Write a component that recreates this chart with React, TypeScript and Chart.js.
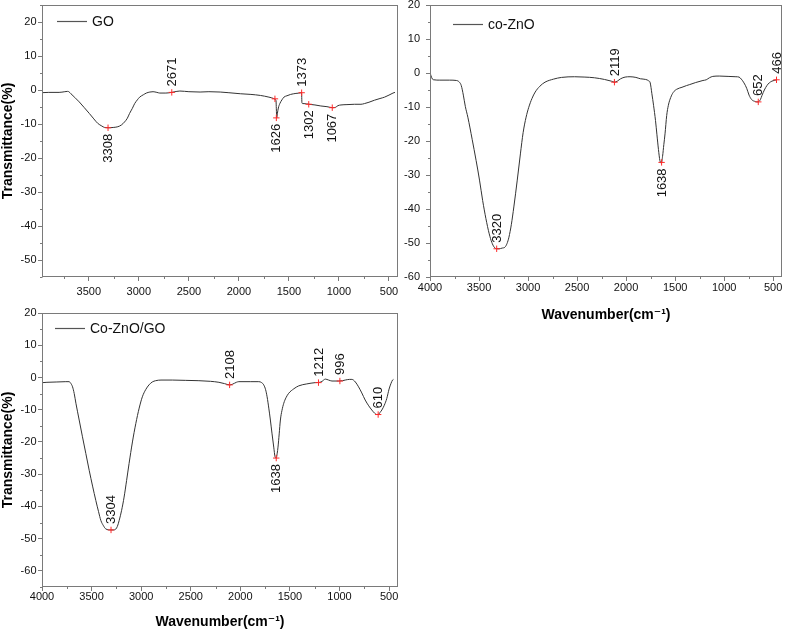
import React, { useEffect, useRef } from 'react';
import { Chart, registerables } from 'chart.js';

Chart.register(...registerables);

const FONT = '"Liberation Sans", Arial, Helvetica, "DejaVu Sans", sans-serif';
const AXIS_COLOR = '#7a7a7a';
const LINE_COLOR = '#333333';
const MARKER_COLOR = '#ff2a2a';
const TEXT_COLOR = '#111111';

// ---------- GO ----------
const GO_WAVENUMBER = [
  3985, 3900, 3797, 3740, 3713, 3700, 3679, 3640, 3596, 3545, 3495, 3450, 3411, 3370, 3344, 3294, 3250,
  3210, 3175, 3143, 3115, 3093, 3065, 3042, 3015, 2992, 2955, 2925, 2890, 2858, 2820, 2791, 2730, 2671,
  2620, 2590, 2500, 2388, 2300, 2187, 2100, 1986, 1880, 1785, 1700, 1653, 1635, 1629, 1626, 1622, 1616,
  1606, 1591, 1570, 1550, 1520, 1483, 1430, 1380, 1374, 1370, 1362, 1349, 1299, 1240, 1181, 1120, 1063,
  1035, 1010, 980, 920, 846, 780, 746, 700, 645, 590, 544, 500, 460, 440,
];
const GO_TRANSMITTANCE = [
  -0.8, -0.7, -0.7, -0.5, -0.4, -0.5, -1.1, -2.2, -3.5, -5.2, -6.9, -8.5, -9.8, -10.6, -11.0, -11.1, -11.0,
  -10.8, -10.3, -9.4, -8.3, -6.9, -5.4, -4.0, -2.9, -2.1, -1.4, -0.9, -0.6, -0.5, -0.7, -0.9, -0.9, -0.7,
  -0.4, -0.3, -0.5, -0.6, -0.5, -0.6, -0.8, -1.1, -1.3, -1.6, -2.1, -2.5, -2.8, -3.2, -5.5, -8.2, -7.0,
  -5.3, -4.0, -2.9, -2.1, -1.7, -1.3, -1.0, -0.8, -0.7, -3.8, -4.0, -4.0, -4.2, -4.4, -4.7, -4.9, -5.2,
  -5.1, -4.6, -4.4, -4.3, -4.2, -4.2, -4.0, -3.6, -3.0, -2.5, -2.1, -1.5, -0.9, -0.7,
];
const GO_PEAK_WAVENUMBER = [3308, 2671, 1640, 1626, 1373, 1302, 1067];
const GO_PEAK_TRANSMITTANCE = [-11.1, -0.7, -2.6, -8.2, -0.8, -4.2, -5.2];
const GO_PEAK_LABELS = ['3308', '2671', '', '1626', '1373', '1302', '1067'];
const GO_PEAK_SIDE = ['below', 'above', 'above', 'below', 'above', 'below', 'below'];
const GO_X_TICKS = [3500, 3000, 2500, 2000, 1500, 1000, 500];
const GO_Y_TICKS = [-50, -40, -30, -20, -10, 0, 10, 20];

// ---------- co-ZnO ----------
const ZNO_WAVENUMBER = [
  4000, 3990, 3975, 3960, 3900, 3800, 3731, 3700, 3681, 3660, 3640, 3614, 3570, 3530, 3495, 3463, 3430,
  3396, 3370, 3346, 3320, 3296, 3265, 3235, 3215, 3195, 3170, 3145, 3110, 3078, 3050, 3020, 2994, 2960,
  2927, 2880, 2827, 2740, 2659, 2525, 2420, 2324, 2220, 2150, 2119, 2090, 2056, 2010, 1960, 1900, 1854,
  1800, 1770, 1754, 1737, 1720, 1700, 1686, 1670, 1655, 1640, 1628, 1615, 1603, 1586, 1569, 1545, 1519,
  1485, 1430, 1384, 1351, 1290, 1216, 1183, 1150, 1116, 1050, 960, 880, 848, 825, 798, 770, 746, 720,
  681, 655, 630, 614, 590, 564, 540, 513, 490, 466,
];
const ZNO_TRANSMITTANCE = [
  0.2, -0.8, -1.8, -2.0, -2.1, -2.1, -2.2, -2.7, -3.7, -6.5, -9.8, -13.0, -19.5, -25.7, -31.5, -37.5, -42.8,
  -47.3, -49.8, -51.2, -51.7, -51.7, -51.5, -51.2, -50.2, -48.3, -44.5, -39.4, -31.5, -23.8, -17.5, -13.0,
  -10.2, -7.5, -5.6, -3.9, -2.7, -1.8, -1.3, -1.1, -1.2, -1.4, -1.9, -2.4, -2.7, -2.4, -1.7, -1.2, -1.1,
  -1.3, -1.7, -1.9, -2.3, -2.9, -6.1, -9.5, -14.0, -18.0, -22.5, -25.8, -26.5, -24.5, -21.0, -17.9, -12.5,
  -9.5, -7.2, -5.7, -4.8, -4.2, -3.7, -3.4, -2.8, -2.2, -2.0, -1.4, -1.0, -0.9, -1.0, -1.1, -1.2, -1.8,
  -2.9, -4.5, -6.5, -7.8, -8.4, -8.5, -7.8, -6.6, -5.0, -3.7, -2.9, -2.4, -2.2, -2.0,
];
const ZNO_PEAK_WAVENUMBER = [3320, 2119, 1638, 652, 466];
const ZNO_PEAK_TRANSMITTANCE = [-51.7, -2.7, -26.3, -8.5, -2.0];
const ZNO_PEAK_LABELS = ['3320', '2119', '1638', '652', '466'];
const ZNO_PEAK_SIDE = ['above', 'above', 'below', 'above', 'above'];
const ZNO_X_TICKS = [4000, 3500, 3000, 2500, 2000, 1500, 1000, 500];
const ZNO_Y_TICKS = [-60, -50, -40, -30, -20, -10, 0, 10, 20];

// ---------- Co-ZnO/GO ----------
const COMP_WAVENUMBER = [
  4000, 3994, 3950, 3850, 3760, 3727, 3710, 3692, 3675, 3658, 3625, 3592, 3558, 3524, 3490, 3457, 3430,
  3406, 3380, 3356, 3306, 3280, 3255, 3240, 3222, 3197, 3172, 3147, 3122, 3088, 3054, 3020, 2988, 2955,
  2921, 2888, 2854, 2800, 2686, 2550, 2418, 2300, 2216, 2160, 2108, 2080, 2040, 2015, 1900, 1814, 1785,
  1764, 1745, 1730, 1713, 1697, 1680, 1663, 1650, 1638, 1628, 1620, 1608, 1596, 1580, 1562, 1540, 1512,
  1460, 1411, 1330, 1244, 1200, 1175, 1160, 1143, 1110, 1076, 1009, 970, 942, 900, 875, 840, 808, 775,
  741, 705, 674, 645, 624, 605, 590, 573, 548, 523, 500, 480, 465, 456,
];
const COMP_TRANSMITTANCE = [
  -1.3, -1.6, -1.5, -1.4, -1.3, -1.3, -1.8, -2.9, -5.0, -8.0, -13.2, -18.4, -23.6, -28.8, -33.7, -38.2,
  -41.6, -44.4, -46.0, -47.0, -47.3, -47.3, -47.0, -46.2, -44.4, -41.2, -37.1, -32.0, -26.7, -20.0, -14.3,
  -9.5, -6.0, -3.8, -2.3, -1.4, -1.0, -0.8, -0.8, -0.9, -1.0, -1.2, -1.5, -1.9, -2.3, -2.1, -1.5, -1.3,
  -1.3, -1.3, -1.6, -2.3, -3.8, -6.0, -9.5, -13.2, -17.5, -21.6, -24.6, -25.0, -23.5, -21.6, -17.5, -13.2,
  -10.2, -8.0, -6.3, -4.9, -3.5, -2.6, -2.0, -1.6, -1.5, -1.2, -0.8, -0.5, -0.8, -1.1, -1.1, -1.0, -0.8,
  -0.6, -0.6, -1.4, -2.9, -4.8, -7.0, -8.8, -10.1, -11.1, -11.5, -11.4, -10.8, -10.1, -8.6, -6.5, -3.6,
  -1.8, -0.8, -0.6,
];
const COMP_PEAK_WAVENUMBER = [3304, 2108, 1638, 1212, 996, 610];
const COMP_PEAK_TRANSMITTANCE = [-47.3, -2.3, -25.0, -1.6, -1.1, -11.5];
const COMP_PEAK_LABELS = ['3304', '2108', '1638', '1212', '996', '610'];
const COMP_PEAK_SIDE = ['above', 'above', 'below', 'above', 'above', 'above'];
const COMP_X_TICKS = [4000, 3500, 3000, 2500, 2000, 1500, 1000, 500];
const COMP_Y_TICKS = [-60, -50, -40, -30, -20, -10, 0, 10, 20];

type Panel = {
  name: string;
  wn: number[];
  tr: number[];
  peakWn: number[];
  peakTr: number[];
  peakLabels: string[];
  peakSide: string[];
  xTicks: number[];
  yTicks: number[];
  xMin: number;
  xMax: number;
  yMin: number;
  yMax: number;
  left: number;
  top: number;
  width: number;
  height: number;
  pad: { left: number; right: number; top: number; bottom: number };
  yAxisWidth: number;
  xAxisHeight: number;
  yTitle: boolean;
  xTitle: boolean;
  xLabelPad: number;
  yLabelPad: number;
  legendDx: number;
  legendDy: number;
};

const PANELS: Panel[] = [
  {
    name: 'GO', wn: GO_WAVENUMBER, tr: GO_TRANSMITTANCE,
    peakWn: GO_PEAK_WAVENUMBER, peakTr: GO_PEAK_TRANSMITTANCE, peakLabels: GO_PEAK_LABELS, peakSide: GO_PEAK_SIDE,
    xTicks: GO_X_TICKS, yTicks: GO_Y_TICKS, xMin: 410, xMax: 3968, yMin: -55, yMax: 25,
    left: 0, top: 0, width: 405, height: 300,
    pad: { left: 0, right: 7, top: 4, bottom: 0 }, yAxisWidth: 42, xAxisHeight: 23,
    yTitle: true, xTitle: false, xLabelPad: 5, yLabelPad: 1.5, legendDx: 15, legendDy: 16,
  },
  {
    name: 'co-ZnO', wn: ZNO_WAVENUMBER, tr: ZNO_TRANSMITTANCE,
    peakWn: ZNO_PEAK_WAVENUMBER, peakTr: ZNO_PEAK_TRANSMITTANCE, peakLabels: ZNO_PEAK_LABELS, peakSide: ZNO_PEAK_SIDE,
    xTicks: ZNO_X_TICKS, yTicks: ZNO_Y_TICKS, xMin: 410, xMax: 4000, yMin: -60, yMax: 20,
    left: 390, top: 0, width: 397, height: 330,
    pad: { left: 0, right: 0, top: 4, bottom: 6 }, yAxisWidth: 40, xAxisHeight: 47,
    yTitle: false, xTitle: true, xLabelPad: 1, yLabelPad: 6, legendDx: 23, legendDy: 19,
  },
  {
    name: 'Co-ZnO/GO', wn: COMP_WAVENUMBER, tr: COMP_TRANSMITTANCE,
    peakWn: COMP_PEAK_WAVENUMBER, peakTr: COMP_PEAK_TRANSMITTANCE, peakLabels: COMP_PEAK_LABELS, peakSide: COMP_PEAK_SIDE,
    xTicks: COMP_X_TICKS, yTicks: COMP_Y_TICKS, xMin: 410, xMax: 4000, yMin: -65, yMax: 20,
    left: 0, top: 300, width: 405, height: 334,
    pad: { left: 0, right: 7, top: 13, bottom: 3 }, yAxisWidth: 42, xAxisHeight: 44,
    yTitle: true, xTitle: true, xLabelPad: 0, yLabelPad: 1.5, legendDx: 13, legendDy: 15,
  },
];

function makePlugins(p: Panel) {
  const frame = {
    id: 'frame-' + p.name,
    afterDraw(chart: any) {
      const { ctx, chartArea: a } = chart;
      ctx.save();
      ctx.strokeStyle = AXIS_COLOR;
      ctx.lineWidth = 1;
      const l = Math.round(a.left) + 0.5;
      const r = Math.round(a.right) - 0.5;
      const t = Math.round(a.top) + 0.5;
      const b = Math.round(a.bottom) - 0.5;
      ctx.strokeRect(l, t, r - l, b - t);
      // minor ticks
      const xs = chart.scales.x;
      const ys = chart.scales.y;
      ctx.beginPath();
      const xMaj = new Set(p.xTicks);
      for (let v = Math.ceil(p.xMin / 250) * 250; v <= p.xMax; v += 250) {
        if (xMaj.has(v)) continue;
        const px = Math.round(xs.getPixelForValue(v)) + 0.5;
        ctx.moveTo(px, b);
        ctx.lineTo(px, b + 2.5);
      }
      const yMaj = new Set(p.yTicks);
      for (let v = Math.ceil(p.yMin / 5) * 5; v <= p.yMax; v += 5) {
        if (yMaj.has(v)) continue;
        const py = Math.round(ys.getPixelForValue(v)) + 0.5;
        ctx.moveTo(l, py);
        ctx.lineTo(l - 2.5, py);
      }
      ctx.stroke();
      ctx.restore();
    },
  };
  const labels = {
    id: 'labels-' + p.name,
    afterDatasetsDraw(chart: any) {
      const { ctx, chartArea: a } = chart;
      const xs = chart.scales.x;
      const ys = chart.scales.y;
      ctx.save();
      ctx.fillStyle = TEXT_COLOR;
      ctx.font = `13px ${FONT}`;
      ctx.textBaseline = 'middle';
      p.peakWn.forEach((w, i) => {
        const text = p.peakLabels[i];
        if (!text) return;
        const px = xs.getPixelForValue(w);
        const py = ys.getPixelForValue(p.peakTr[i]);
        ctx.save();
        ctx.translate(px, py);
        ctx.rotate(-Math.PI / 2);
        if (p.peakSide[i] === 'above') {
          ctx.textAlign = 'left';
          ctx.fillText(text, 6, 0.5);
        } else {
          ctx.textAlign = 'right';
          ctx.fillText(text, -6, 0.5);
        }
        ctx.restore();
      });
      // legend
      const lx = a.left + p.legendDx;
      const ly = a.top + p.legendDy;
      ctx.strokeStyle = '#555555';
      ctx.lineWidth = 1.2;
      ctx.beginPath();
      ctx.moveTo(lx, ly + 0.5);
      ctx.lineTo(lx + 30, ly + 0.5);
      ctx.stroke();
      ctx.font = `14px ${FONT}`;
      ctx.textAlign = 'left';
      ctx.fillText(p.name, lx + 35, ly + 1);
      ctx.restore();
    },
  };
  return [frame, labels];
}

function makeConfig(p: Panel): any {
  const curve = p.wn.map((w, i) => ({ x: w, y: p.tr[i] }));
  const peaks = p.peakWn.map((w, i) => ({ x: w, y: p.peakTr[i] }));
  return {
    type: 'scatter',
    data: {
      datasets: [
        {
          data: peaks,
          showLine: false,
          pointStyle: 'cross',
          pointRadius: 3.2,
          borderColor: MARKER_COLOR,
          backgroundColor: MARKER_COLOR,
          pointBorderWidth: 1,
          order: 0,
        },
        {
          data: curve,
          showLine: true,
          borderColor: LINE_COLOR,
          backgroundColor: LINE_COLOR,
          borderWidth: 1,
          pointRadius: 0,
          cubicInterpolationMode: 'monotone',
          fill: false,
          order: 1,
        },
      ],
    },
    options: {
      animation: false,
      responsive: false,
      events: [],
      layout: { padding: p.pad },
      plugins: { legend: { display: false }, tooltip: { enabled: false } },
      scales: {
        x: {
          type: 'linear',
          reverse: true,
          min: p.xMin,
          max: p.xMax,
          afterBuildTicks: (s: any) => {
            s.ticks = p.xTicks.map((v) => ({ value: v }));
          },
          afterFit: (s: any) => {
            s.height = p.xAxisHeight;
            s.paddingLeft = 0;
            s.paddingRight = 0;
          },
          ticks: {
            autoSkip: false,
            maxRotation: 0,
            minRotation: 0,
            padding: p.xLabelPad,
            color: TEXT_COLOR,
            font: { size: 11, family: FONT, lineHeight: 1 },
            callback: (v: number) => String(v),
          },
          grid: { display: true, drawOnChartArea: false, drawTicks: true, tickLength: 4, color: AXIS_COLOR, tickColor: AXIS_COLOR },
          border: { display: false },
          title: {
            display: p.xTitle,
            text: 'Wavenumber(cm⁻¹)',
            color: '#000',
            font: { size: 14, weight: 'bold', family: FONT },
            padding: { top: 0, bottom: 0 },
          },
        },
        y: {
          type: 'linear',
          min: p.yMin,
          max: p.yMax,
          afterBuildTicks: (s: any) => {
            s.ticks = p.yTicks.map((v) => ({ value: v }));
          },
          afterFit: (s: any) => {
            s.width = p.yAxisWidth;
            s.paddingTop = 0;
            s.paddingBottom = 0;
          },
          ticks: {
            autoSkip: false,
            padding: p.yLabelPad,
            color: TEXT_COLOR,
            font: { size: 11, family: FONT, lineHeight: 1 },
            callback: (v: number) => String(v),
          },
          grid: { display: true, drawOnChartArea: false, drawTicks: true, tickLength: 4, color: AXIS_COLOR, tickColor: AXIS_COLOR },
          border: { display: false },
          title: {
            display: p.yTitle,
            text: 'Transmittance(%)',
            color: '#000',
            font: { size: 14, weight: 'bold', family: FONT, lineHeight: 1.1 },
            padding: { top: 0, bottom: 0 },
          },
        },
      },
    },
    plugins: makePlugins(p),
  };
}

function SpectrumPanel({ panel }: { panel: Panel }) {
  const ref = useRef<HTMLCanvasElement | null>(null);
  useEffect(() => {
    if (!ref.current) return;
    const chart = new Chart(ref.current, makeConfig(panel));
    return () => chart.destroy();
  }, [panel]);
  return (
    <div style={{ position: 'absolute', left: panel.left, top: panel.top, width: panel.width, height: panel.height }}>
      <canvas ref={ref} width={panel.width} height={panel.height} style={{ width: panel.width, height: panel.height, display: 'block' }} />
    </div>
  );
}

export default function App() {
  return (
    <div style={{ position: 'absolute', left: 0, top: 0, width: 787, height: 634, background: '#fff', overflow: 'hidden' }}>
      {PANELS.map((p) => (
        <SpectrumPanel key={p.name} panel={p} />
      ))}
    </div>
  );
}
